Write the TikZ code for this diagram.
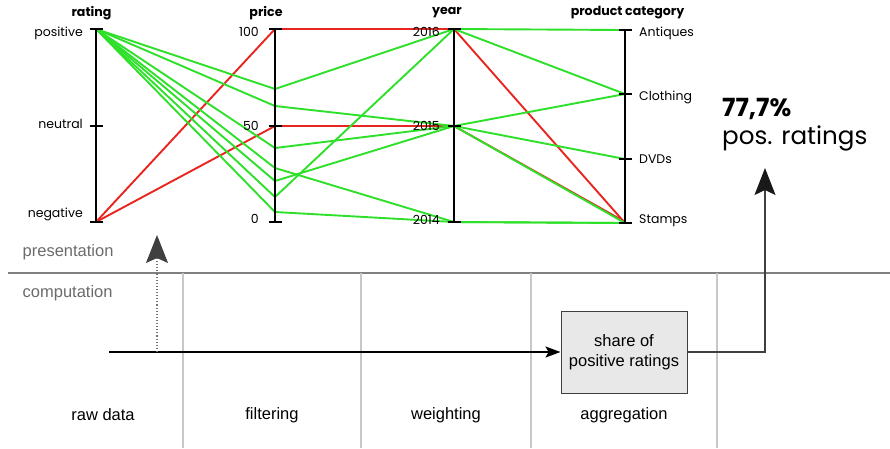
\documentclass[tikz,border=0pt]{standalone}
\usepackage{fontspec}
\setmainfont{Liberation Sans}
\newfontfamily\chartfont{Poppins}
\usetikzlibrary{arrows.meta}
\definecolor{recgreen}{HTML}{2EE02A}
\definecolor{recred}{HTML}{E8261F}
\definecolor{layergray}{HTML}{6B6B6B}
\definecolor{divgray}{HTML}{C8C8C8}
\definecolor{boxfill}{HTML}{E8E8E8}
\tikzset{
  axisline/.style={line width=2.2pt, black},
  axistick/.style={line width=2.2pt, black},
  greenrec/.style={line width=1.9pt, recgreen, line join=round},
  redrec/.style={line width=1.9pt, recred, line join=round},
  axistitle/.style={font=\chartfont\bfseries\fontsize{12.6}{14}\selectfont, inner sep=0pt},
  vallabel/.style={font=\chartfont\fontsize{12.5}{14}\selectfont, inner sep=0pt},
  layerlabel/.style={font=\fontsize{16.5}{19}\selectfont, text=layergray, anchor=west, inner sep=0pt},
  stagelabel/.style={font=\fontsize{16.5}{19}\selectfont, inner sep=0pt},
  stagediv/.style={divgray, line width=1.2pt},
  procbox/.style={draw=black!75, fill=boxfill, line width=1pt, minimum width=126pt, minimum height=82pt,
    align=center, font=\fontsize{16.5}{20}\selectfont, inner sep=0pt},
  flow/.style={line width=1.4pt, black!75},
}
\begin{document}
\begin{tikzpicture}[x=1pt, y=-1pt]
\useasboundingbox (0,0) rectangle (890,448);

% ---------- parallel coordinates: axis positions ----------
\coordinate (rPos) at (96,29);
\coordinate (rNeu) at (96,126);
\coordinate (rNeg) at (96,222);
\coordinate (pHi) at (275,29);
\coordinate (pMid) at (275,126);
\coordinate (pLo) at (275,222);
\coordinate (y16) at (454,29);
\coordinate (y15) at (454,126);
\coordinate (y14) at (454,222);
\coordinate (cAnt) at (625,30);
\coordinate (cClo) at (625,94);
\coordinate (cDvd) at (625,159);
\coordinate (cSta) at (625,223);

% price values of the positive records
\coordinate (pA) at (275,89);
\coordinate (pB) at (275,106);
\coordinate (pC) at (275,148);
\coordinate (pD) at (275,168);
\coordinate (pE) at (275,181);
\coordinate (pF) at (275,197);
\coordinate (pG) at (275,212);

% ---------- records ----------
\draw[redrec] (rNeg) -- (pHi) -- (y16) -- (cSta);
\draw[redrec] (rNeg) -- (pMid) -- (y15) -- ([yshift=1.2pt]cSta);

\draw[greenrec] (rPos) -- (pA) -- (y16) -- (cAnt);
\draw[greenrec] (rPos) -- (pB) -- (y15) -- (cClo);
\draw[greenrec] (rPos) -- (pC) -- (y15) -- (cDvd);
\draw[greenrec] (rPos) -- (pD) -- (y14) -- (cSta);
\draw[greenrec] (rPos) -- (pE) -- (y15) -- (cSta);
\draw[greenrec] (rPos) -- (pF) -- (y16) -- (cClo);
\draw[greenrec] (rPos) -- (pG) -- (y14) -- (cSta);

% ---------- axes ----------
\draw[axisline] (rPos) -- (rNeg);
\draw[axisline] (pHi) -- (pLo);
\draw[axisline] (y16) -- (y14);
\draw[axisline] (cAnt) -- (cSta);
\foreach \c in {rPos,rNeu,rNeg,pHi,pMid,pLo,y16,y15,y14,cAnt,cClo,cDvd,cSta}
  \draw[axistick] ([xshift=-6.5pt]\c) -- ([xshift=6.5pt]\c);

% axis titles
\node[axistitle] (tRating) at (91.5,13) {rating};
\node[axistitle] (tPrice) at (266,13) {price};
\node[axistitle] (tYear) at (447,13) {year};
\node[axistitle] (tCat) at (627.5,13) {product category};

% axis values
\node[vallabel, anchor=east] (lPos) at (83,33) {positive};
\node[vallabel, anchor=east] (lNeu) at (83,124) {neutral};
\node[vallabel, anchor=east] (lNeg) at (83,214) {negative};
\node[vallabel, anchor=east] (l100) at (259,32) {100};
\node[vallabel, anchor=east] (l50) at (259,126) {50};
\node[vallabel, anchor=east] (l0) at (259,219) {0};
\node[vallabel, anchor=east] (l16) at (440,32) {2016};
\node[vallabel, anchor=east] (l15) at (440,126) {2015};
\node[vallabel, anchor=east] (l14) at (440,220) {2014};
\node[vallabel, anchor=west] (lAnt) at (639,33) {Antiques};
\node[vallabel, anchor=west] (lClo) at (639,97) {Clothing};
\node[vallabel, anchor=west] (lDvd) at (639,159) {DVDs};
\node[vallabel, anchor=west] (lSta) at (639,221) {Stamps};

% result
\node[anchor=west, inner sep=0pt, font=\chartfont\bfseries\fontsize{25}{29}\selectfont] (share) at (722,109) {77,7\%};
\node[anchor=west, inner sep=0pt, font=\chartfont\fontsize{24.6}{29}\selectfont] (shareTxt) at (722,138) {pos. ratings};

% ---------- layers ----------
\draw[black!50, line width=1.2pt] (8,273) -- (890,273);
\node[layerlabel] (presentation) at (22.5,252) {presentation};
\node[layerlabel] (computation) at (22.5,293) {computation};

\foreach \x in {183,361,531,717}
  \draw[stagediv] (\x,273) -- (\x,448);

\node[stagelabel] (sRaw) at (103,415) {raw data};
\node[stagelabel] (sFilter) at (272,415) {filtering};
\node[stagelabel] (sWeight) at (446,415) {weighting};
\node[stagelabel] (sAgg) at (624,415) {aggregation};

% ---------- computation flow ----------
\node[procbox] (agg) at (624,352) {share of\\positive ratings};
\coordinate (flowStart) at (109,352);
\coordinate (tapRaw) at (157,352);
\coordinate (tapRawTip) at (157,235);
\coordinate (bend) at (765,352);
\coordinate (resultTip) at (765,168);

\draw[flow, black, -{Stealth[length=15pt, width=11pt, inset=3pt]}] (flowStart) -- (agg.west);
\draw[black!55, line width=1.1pt, dotted, -{Stealth[length=28pt, width=22pt, inset=5pt, black!75]}] (tapRaw) -- (tapRawTip);
\draw[flow, -{Stealth[length=27pt, width=21pt, inset=5pt, black!90]}] (agg.east) -- (bend) -- (resultTip);

\end{tikzpicture}
\end{document}
